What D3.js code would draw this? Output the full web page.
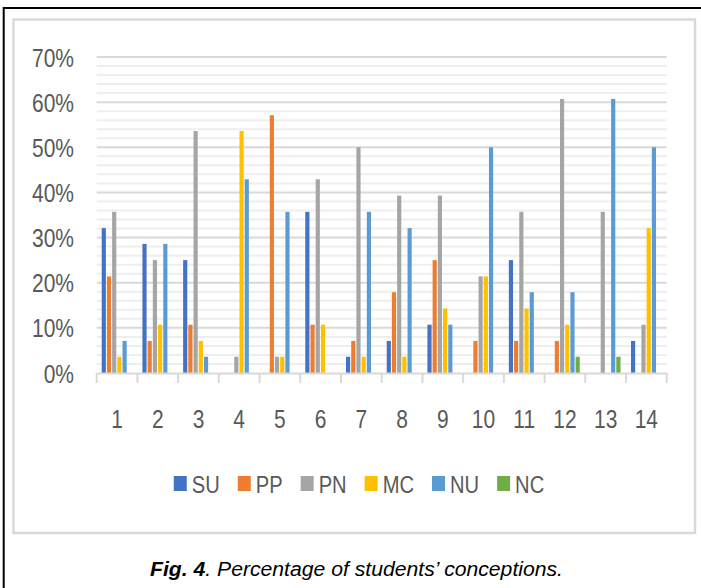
<!DOCTYPE html>
<html>
<head>
<meta charset="utf-8">
<script src="https://cdn.jsdelivr.net/npm/d3@7"></script>
<style>
  html, body { margin: 0; padding: 0; background: #fff; }
  svg { display: block; }
</style>
</head>
<body>
<svg id="chart" width="701" height="588"></svg>
<script>
// Questions 1–14 and the share of students in each conception category
const categories = ["1","2","3","4","5","6","7","8","9","10","11","12","13","14"];
const seriesNames = ["SU","PP","PN","MC","NU","NC"];
const seriesColors = ["#4472C4","#ED7D31","#A5A5A5","#FFC000","#5B9BD5","#70AD47"];

const SU = [0.321,0.286,0.250,0,0,0.357,0.036,0.071,0.107,0,0.250,0,0,0.071];
const PP = [0.214,0.071,0.107,0,0.571,0.107,0.071,0.179,0.250,0.071,0.071,0.071,0,0];
const PN = [0.357,0.250,0.536,0.036,0.036,0.429,0.500,0.393,0.393,0.214,0.357,0.607,0.357,0.107];
const MC = [0.036,0.107,0.071,0.536,0.036,0.107,0.036,0.036,0.143,0.214,0.143,0.107,0,0.321];
const NU = [0.071,0.286,0.036,0.429,0.357,0,0.357,0.321,0.107,0.500,0.179,0.179,0.607,0.500];
const NC = [0,0,0,0,0,0,0,0,0,0,0,0.036,0.036,0];

const yTicks = [0,0.1,0.2,0.3,0.4,0.5,0.6,0.7];
const yMinor = d3.range(0, 0.7001, 0.02);
const captionBold = "Fig. 4";
const captionRest = ". Percentage of students\u2019 conceptions.";

const seriesValues = [SU, PP, PN, MC, NU, NC];

const svg = d3.select("#chart");
const FONT = "'Liberation Sans', Arial, sans-serif";
const SQUEEZE = 0.84;   // horizontal squeeze to approximate a condensed face
const textColor = "#595959";

// Page frame
svg.append("line").attr("x1", 3.7).attr("x2", 3.7).attr("y1", 7).attr("y2", 588)
  .attr("stroke", "#000").attr("stroke-width", 2);
svg.append("line").attr("x1", 3).attr("x2", 701).attr("y1", 8).attr("y2", 8)
  .attr("stroke", "#000").attr("stroke-width", 2);
svg.append("rect").attr("x", 13.5).attr("y", 19.5).attr("width", 681.5).attr("height", 513.5)
  .attr("fill", "none").attr("stroke", "#d9d9d9").attr("stroke-width", 2.5);

// Scales
const plot = { left: 96.7, right: 666.7, top: 57, bottom: 373 };
const x0 = d3.scaleBand().domain(categories).range([plot.left, plot.right]).padding(0);
const bw = x0.bandwidth();
const x1 = d3.scaleBand().domain(seriesNames)
  .range([bw * 0.123, bw * 0.123 + 30.2]).paddingInner(0.2).paddingOuter(0);
const y = d3.scaleLinear().domain([0, 0.7]).range([plot.bottom, plot.top]);

// Gridlines: minor every 2 %, major every 10 %
const grid = svg.append("g");
grid.selectAll("line.minor").data(yMinor.filter(v => Math.round(v * 100) % 10 !== 0))
  .join("line").attr("class", "minor")
  .attr("x1", plot.left).attr("x2", plot.right)
  .attr("y1", d => y(d)).attr("y2", d => y(d))
  .attr("stroke", "#eeeeee").attr("stroke-width", 2);
grid.selectAll("line.major").data(yTicks.slice(1))
  .join("line").attr("class", "major")
  .attr("x1", plot.left).attr("x2", plot.right)
  .attr("y1", d => y(d)).attr("y2", d => y(d))
  .attr("stroke", "#d9d9d9").attr("stroke-width", 2);

// Y axis labels
const yAxis = d3.axisLeft(y).tickValues(yTicks).tickFormat(d3.format(".0%")).tickSize(0).tickPadding(0);
const yg = svg.append("g").attr("transform", `translate(74,0)`).call(yAxis);
yg.select(".domain").remove();
yg.selectAll("text")
  .attr("font-family", FONT).attr("font-size", 25).attr("fill", textColor)
  .attr("x", 0).attr("dy", "0.36em")
  .attr("transform", `scale(${SQUEEZE},1)`);

// Bars
const groups = svg.append("g").selectAll("g")
  .data(categories.map((c, i) => ({ c, i })))
  .join("g").attr("transform", d => `translate(${x0(d.c)},0)`);
groups.selectAll("rect")
  .data(d => seriesNames.map((s, k) => ({ s, k, v: seriesValues[k][d.i] })))
  .join("rect")
  .attr("x", d => x1(d.s)).attr("width", x1.bandwidth())
  .attr("y", d => y(d.v)).attr("height", d => y(0) - y(d.v))
  .attr("fill", d => seriesColors[d.k]);

// X axis
const xAxis = d3.axisBottom(x0).tickSize(0).tickPadding(0);
const xg = svg.append("g").attr("transform", `translate(0,${plot.bottom})`).call(xAxis);
xg.select(".domain").attr("stroke", "#d9d9d9").attr("stroke-width", 2);
xg.selectAll("text")
  .attr("font-family", FONT).attr("font-size", 25).attr("fill", textColor)
  .attr("y", 0).attr("dy", 0)
  .attr("transform", `translate(0,55) scale(${SQUEEZE},1)`);
// category boundary ticks
xg.selectAll("line.bound").data(d3.range(categories.length + 1))
  .join("line").attr("class", "bound")
  .attr("x1", i => plot.left + i * bw).attr("x2", i => plot.left + i * bw)
  .attr("y1", 0).attr("y2", 10)
  .attr("stroke", "#d9d9d9").attr("stroke-width", 2);

// Legend
const legend = svg.append("g");
const items = legend.selectAll("g").data(seriesNames).join("g");
items.append("rect").attr("width", 13).attr("height", 15).attr("y", -8)
  .attr("fill", (d, i) => seriesColors[i]);
items.append("text").text(d => d)
  .attr("font-family", FONT).attr("font-size", 24).attr("fill", textColor)
  .attr("dy", "0.36em")
  .attr("transform", `translate(18,0) scale(${SQUEEZE},1)`);
let cx = 0;
const offsets = [];
items.each(function() {
  const w = d3.select(this).select("text").node().getComputedTextLength() * SQUEEZE;
  offsets.push(cx);
  cx += 18 + w + 18;
});
const total = cx - 18;
const lx = 359 - total / 2;
items.attr("transform", (d, i) => `translate(${lx + offsets[i]},484)`);

// Caption
const cap = svg.append("text").attr("x", 150).attr("y", 576)
  .attr("font-family", FONT).attr("font-size", 19.5).attr("font-style", "italic").attr("fill", "#000")
  .attr("textLength", 413).attr("lengthAdjust", "spacingAndGlyphs");
cap.append("tspan").attr("font-weight", "bold").text(captionBold);
cap.append("tspan").text(captionRest);
</script>
</body>
</html>
